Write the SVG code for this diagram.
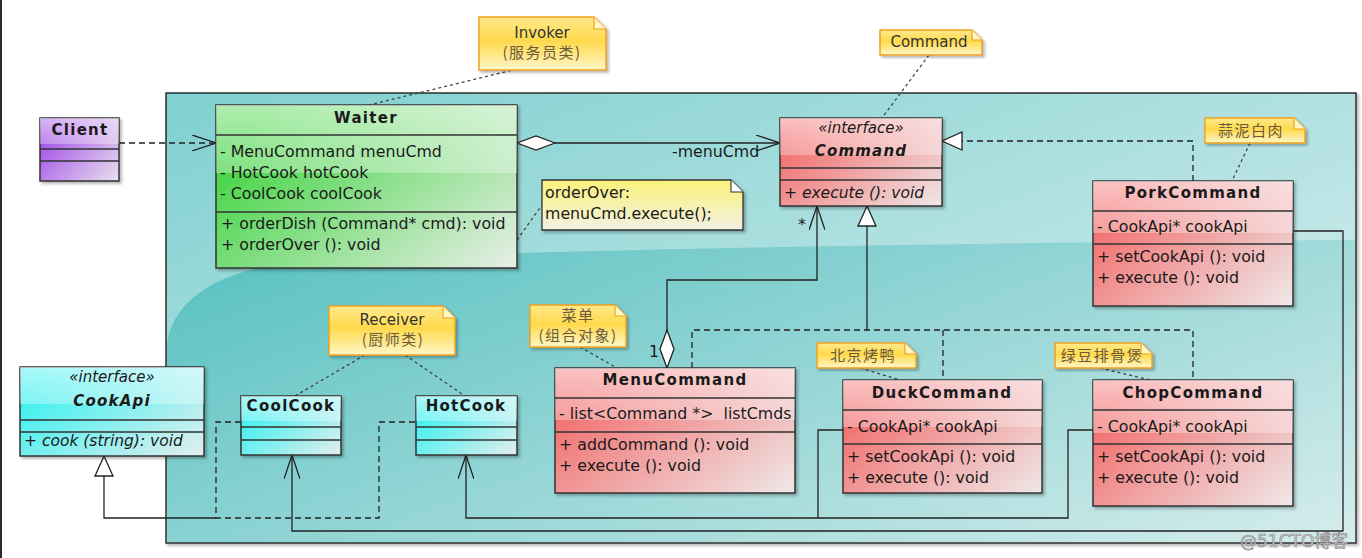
<svg xmlns="http://www.w3.org/2000/svg" width="1362" height="558" viewBox="0 0 1362 558">
<defs>
<style>
text{font-family:"DejaVu Sans","Noto Sans CJK SC",sans-serif;fill:#1a1a1a}
.t{font-size:15.8px}
.b{font-size:15px;font-weight:bold;text-anchor:middle;letter-spacing:1.3px}
.bi{font-size:15px;font-weight:bold;font-style:italic;text-anchor:middle;letter-spacing:1.2px}
.st{font-size:15px;font-style:italic;text-anchor:middle}
.i{font-size:15.5px;font-style:italic}
.nt{font-size:15px;text-anchor:middle;fill:#333}
.cj{font-family:"Noto Sans CJK SC",sans-serif;font-size:15px;text-anchor:middle;fill:#6a5a3a;letter-spacing:1.5px}
.box{stroke:#333;stroke-width:1.5}
.sep{stroke:#333;stroke-width:1.3}
.gloss{fill:url(#gGloss);stroke:none}
.note{fill:url(#gNote);stroke:#f0a21f;stroke-width:1.5}
.fold{fill:#fff6c8;stroke:#f0a21f;stroke-width:1.2}
.link{fill:none;stroke:#444;stroke-width:1.3;stroke-dasharray:3,3}
.c{fill:none;stroke:#222;stroke-width:1.3}
.d{stroke-dasharray:6,4}
</style>
<linearGradient id="gRed" x1="0" y1="0.3" x2="1" y2="1"><stop offset="0" stop-color="#f26a6a"/><stop offset="1" stop-color="#efe8e8"/></linearGradient>
<linearGradient id="gGreen" x1="0" y1="0.3" x2="1" y2="1"><stop offset="0" stop-color="#3ed43e"/><stop offset="1" stop-color="#e8eee8"/></linearGradient>
<linearGradient id="gPurple" x1="0" y1="0.3" x2="1" y2="1"><stop offset="0" stop-color="#a24ce8"/><stop offset="1" stop-color="#e8e2ee"/></linearGradient>
<linearGradient id="gCyan" x1="0" y1="0.3" x2="1" y2="1"><stop offset="0" stop-color="#38f0f0"/><stop offset="1" stop-color="#e4eeee"/></linearGradient>
<linearGradient id="gGloss" x1="0" y1="0" x2="0" y2="1"><stop offset="0" stop-color="#fff" stop-opacity="0.6"/><stop offset="0.42" stop-color="#fff" stop-opacity="0.3"/><stop offset="0.42" stop-color="#fff" stop-opacity="0"/><stop offset="1" stop-color="#fff" stop-opacity="0"/></linearGradient>
<linearGradient id="gNote" x1="0" y1="0" x2="0" y2="1"><stop offset="0" stop-color="#ffe98c"/><stop offset="0.45" stop-color="#ffd94c"/><stop offset="1" stop-color="#fff7c8"/></linearGradient>
<linearGradient id="gNote2" x1="0" y1="0" x2="0" y2="1"><stop offset="0" stop-color="#fbf27a"/><stop offset="1" stop-color="#f3f1e2"/></linearGradient>
<linearGradient id="gPkg" x1="0" y1="0" x2="1" y2="1"><stop offset="0" stop-color="#3cb7b7"/><stop offset="1" stop-color="#d6ecec"/></linearGradient>
<filter id="sh" x="-5%" y="-5%" width="115%" height="120%"><feDropShadow dx="2" dy="2" stdDeviation="1.5" flood-color="#000" flood-opacity="0.3"/></filter>
<marker id="open" viewBox="0 0 24 16" refX="24" refY="8" markerWidth="24" markerHeight="16" markerUnits="userSpaceOnUse" orient="auto"><path d="M0,0 L24,8 L0,16" fill="none" stroke="#222" stroke-width="1.3"/></marker>
<marker id="tri" viewBox="-1 -1 22 20" refX="20" refY="9" markerWidth="22" markerHeight="20" markerUnits="userSpaceOnUse" orient="auto"><path d="M0,0 L20,9 L0,18 Z" fill="#fff" stroke="#222" stroke-width="1.3"/></marker>
<marker id="dia" viewBox="-1 -1 40 16" refX="0" refY="7" markerWidth="40" markerHeight="16" markerUnits="userSpaceOnUse" orient="auto"><path d="M0,7 L19,0 L38,7 L19,14 Z" fill="#fff" stroke="#222" stroke-width="1.3"/></marker>
</defs>

<rect x="0" y="0" width="1362" height="558" fill="#fff"/>
<rect x="0" y="0" width="2" height="558" fill="#2a2a2a"/>

<g id="package">
<rect x="166" y="93" width="1190" height="450" fill="url(#gPkg)" stroke="#333" stroke-width="1.5" filter="url(#sh)"/>
<path d="M167,94 H1355 V240 C1000,242 500,250 300,262 C220,268 172,300 167,345 Z" fill="#fff" fill-opacity="0.35"/>
</g>

<g id="connectors">
<path class="c d" d="M119,143 H216" marker-end="url(#open)"/>
<path class="c" d="M517,143 H780" marker-start="url(#dia)" marker-end="url(#open)"/>
<text class="t" x="672" y="157">-menuCmd</text>
<path class="c d" d="M1193,181 V141 H942" marker-end="url(#tri)"/>
<path class="c" d="M667,368 V280 H817 V206" marker-start="url(#dia)" marker-end="url(#open)"/>
<text class="t" x="649" y="357">1</text>
<text class="t" x="798" y="230">*</text>
<path class="c" d="M867,330 V206" marker-end="url(#tri)"/>
<path class="c d" d="M692,368 V330 H1193 V380 M943,330 V380"/>
<path class="c" d="M216,518 H104 V456" marker-end="url(#tri)"/>
<path class="c d" d="M241,422 H216 V518 H379 V422 H416"/>
<path class="c" d="M1293,231 H1343 V531 H292 V455" marker-end="url(#open)"/>
<path class="c" d="M843,430 H818 V518 M1093,430 H1068 V518 H466 V455" marker-end="url(#open)"/>
<path class="link" d="M517,69 L369,105"/>
<path class="link" d="M929,55 L882,118"/>
<path class="link" d="M517,240 L542,205"/>
<path class="link" d="M1250,143 L1232,181"/>
<path class="link" d="M580,347 L617,368"/>
<path class="link" d="M860,368 L900,380"/>
<path class="link" d="M1100,368 L1150,380"/>
<path class="link" d="M365,355 L295,396"/>
<path class="link" d="M405,355 L465,396"/>
</g>

<g id="Client">
<rect class="box" x="40" y="118" width="79" height="63" fill="url(#gPurple)" filter="url(#sh)"/>
<rect class="gloss" x="40" y="118" width="79" height="63"/>
<path class="sep" d="M40,149 H119 M40,161 H119"/>
<text class="b" x="80" y="135">Client</text>
</g>

<g id="Waiter">
<rect class="box" x="216" y="105" width="301" height="163" fill="url(#gGreen)" filter="url(#sh)"/>
<rect class="gloss" x="216" y="105" width="301" height="163"/>
<path class="sep" d="M216,135 H517 M216,212 H517"/>
<text class="b" x="366" y="123">Waiter</text>
<text class="t" x="220" y="157">- MenuCommand menuCmd</text>
<text class="t" x="220" y="178">- HotCook hotCook</text>
<text class="t" x="220" y="199">- CoolCook coolCook</text>
<text class="t" x="221" y="229">+ orderDish (Command* cmd): void</text>
<text class="t" x="221" y="250">+ orderOver (): void</text>
</g>

<g id="Command">
<rect class="box" x="780" y="118" width="162" height="88" fill="url(#gRed)" filter="url(#sh)"/>
<rect class="gloss" x="780" y="118" width="162" height="88"/>
<path class="sep" d="M780,168 H942 M780,180 H942"/>
<text class="st" x="861" y="133">«interface»</text>
<text class="bi" x="861" y="156">Command</text>
<text class="i" x="784" y="198">+ execute (): void</text>
</g>

<g id="PorkCommand">
<rect class="box" x="1093" y="181" width="200" height="125" fill="url(#gRed)" filter="url(#sh)"/>
<rect class="gloss" x="1093" y="181" width="200" height="125"/>
<path class="sep" d="M1093,211 H1293 M1093,244 H1293"/>
<text class="b" x="1193" y="198">PorkCommand</text>
<text class="t" x="1097" y="232">- CookApi* cookApi</text>
<text class="t" x="1097" y="262">+ setCookApi (): void</text>
<text class="t" x="1097" y="283">+ execute (): void</text>
</g>

<g id="MenuCommand">
<rect class="box" x="555" y="368" width="240" height="125" fill="url(#gRed)" filter="url(#sh)"/>
<rect class="gloss" x="555" y="368" width="240" height="125"/>
<path class="sep" d="M555,398 H795 M555,432 H795"/>
<text class="b" x="675" y="385">MenuCommand</text>
<text class="t" x="559" y="419" xml:space="preserve">- list&lt;Command *&gt;  listCmds</text>
<text class="t" x="559" y="450">+ addCommand (): void</text>
<text class="t" x="559" y="471">+ execute (): void</text>
</g>

<g id="DuckCommand">
<rect class="box" x="843" y="380" width="199" height="113" fill="url(#gRed)" filter="url(#sh)"/>
<rect class="gloss" x="843" y="380" width="199" height="113"/>
<path class="sep" d="M843,410 H1042 M843,444 H1042"/>
<text class="b" x="942" y="398">DuckCommand</text>
<text class="t" x="847" y="432">- CookApi* cookApi</text>
<text class="t" x="847" y="462">+ setCookApi (): void</text>
<text class="t" x="847" y="483">+ execute (): void</text>
</g>

<g id="ChopCommand">
<rect class="box" x="1093" y="380" width="200" height="126" fill="url(#gRed)" filter="url(#sh)"/>
<rect class="gloss" x="1093" y="380" width="200" height="126"/>
<path class="sep" d="M1093,410 H1293 M1093,444 H1293"/>
<text class="b" x="1193" y="398">ChopCommand</text>
<text class="t" x="1097" y="432">- CookApi* cookApi</text>
<text class="t" x="1097" y="462">+ setCookApi (): void</text>
<text class="t" x="1097" y="483">+ execute (): void</text>
</g>

<g id="CookApi">
<rect class="box" x="20" y="367" width="184" height="89" fill="url(#gCyan)" filter="url(#sh)"/>
<rect class="gloss" x="20" y="367" width="184" height="89"/>
<path class="sep" d="M20,420 H204 M20,432 H204"/>
<text class="st" x="112" y="382">«interface»</text>
<text class="bi" x="112" y="406">CookApi</text>
<text class="i" x="24" y="446">+ cook (string): void</text>
</g>

<g id="CoolCook">
<rect class="box" x="241" y="396" width="100" height="59" fill="url(#gCyan)" filter="url(#sh)"/>
<rect class="gloss" x="241" y="396" width="100" height="59"/>
<path class="sep" d="M241,427 H341 M241,440 H341"/>
<text class="b" x="291" y="411">CoolCook</text>
</g>

<g id="HotCook">
<rect class="box" x="416" y="396" width="101" height="59" fill="url(#gCyan)" filter="url(#sh)"/>
<rect class="gloss" x="416" y="396" width="101" height="59"/>
<path class="sep" d="M416,427 H517 M416,440 H517"/>
<text class="b" x="466" y="411">HotCook</text>
</g>

<g id="noteInvoker">
<path class="note" d="M479,17 H594 L606,29 V70 H479 Z" filter="url(#sh)"/>
<path class="fold" d="M594,17 V29 H606"/>
<text class="nt" x="542" y="38">Invoker</text>
<text class="cj" x="542" y="58">(服务员类)</text>
</g>

<g id="noteCommand">
<path class="note" d="M880,30 H972 L982,40 V55 H880 Z" filter="url(#sh)"/>
<path class="fold" d="M972,30 V40 H982"/>
<text class="nt" x="929" y="47">Command</text>
</g>

<g id="noteOrderOver">
<path d="M542,180 H731 L743,192 V230 H542 Z" fill="url(#gNote2)" stroke="#333" stroke-width="1.3" filter="url(#sh)"/>
<path d="M731,180 V192 H743" fill="#fff" stroke="#333" stroke-width="1.1"/>
<text class="t" x="545" y="198">orderOver:</text>
<text class="t" x="545" y="219">menuCmd.execute();</text>
</g>

<g id="notePork">
<path class="note" d="M1205,118 H1294 L1305,129 V143 H1205 Z" filter="url(#sh)"/>
<path class="fold" d="M1294,118 V129 H1305"/>
<text class="cj" x="1251" y="136">蒜泥白肉</text>
</g>

<g id="noteMenu">
<path class="note" d="M530,305 H615 L626,316 V347 H530 Z" filter="url(#sh)"/>
<path class="fold" d="M615,305 V316 H626"/>
<text class="cj" x="578" y="321">菜单</text>
<text class="cj" x="578" y="341">(组合对象)</text>
</g>

<g id="noteDuck">
<path class="note" d="M817,343 H905 L916,354 V368 H817 Z" filter="url(#sh)"/>
<path class="fold" d="M905,343 V354 H916"/>
<text class="cj" x="863" y="361">北京烤鸭</text>
</g>

<g id="noteChop">
<path class="note" d="M1055,343 H1141 L1152,354 V368 H1055 Z" filter="url(#sh)"/>
<path class="fold" d="M1141,343 V354 H1152"/>
<text class="cj" x="1102" y="361">绿豆排骨煲</text>
</g>

<g id="noteReceiver">
<path class="note" d="M329,306 H443 L455,318 V355 H329 Z" filter="url(#sh)"/>
<path class="fold" d="M443,306 V318 H455"/>
<text class="nt" x="392" y="325">Receiver</text>
<text class="cj" x="393" y="345">(厨师类)</text>
</g>

<text x="1240" y="547" style="font-family:'DejaVu Sans','Noto Sans CJK SC',sans-serif;font-size:17px;fill:#cfcfcf;stroke:#888;stroke-width:0.6">@51CTO博客</text>
</svg>
